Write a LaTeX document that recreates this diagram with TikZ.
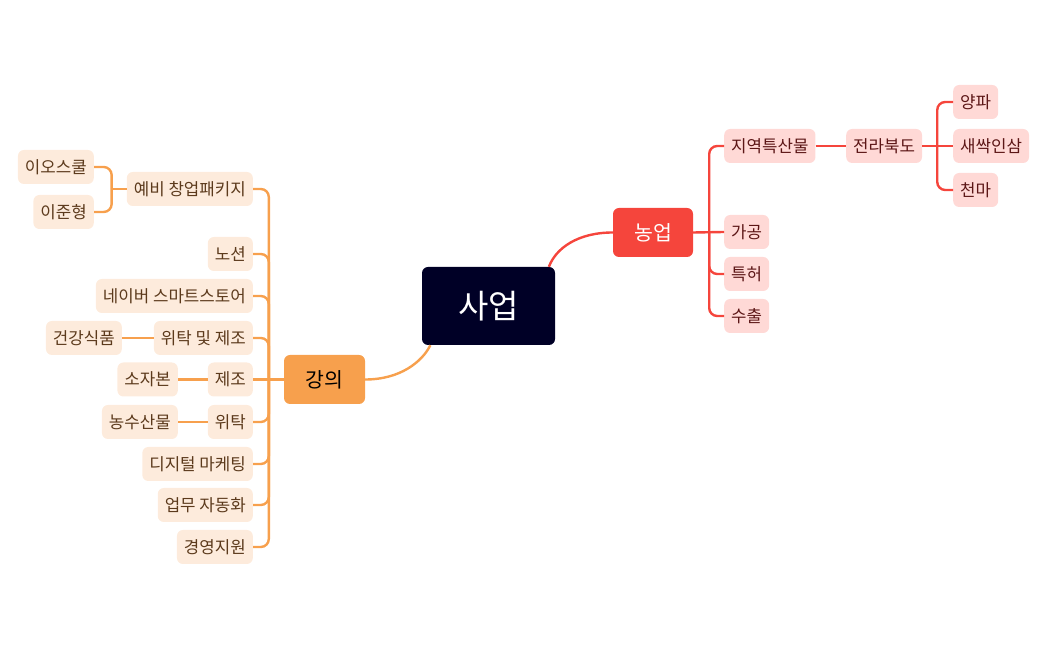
\documentclass[tikz,border=0pt]{standalone}
\usepackage{fontspec}
\usepackage{xcolor}
\usepackage{tikz}
\usetikzlibrary{positioning, calc}
\newfontfamily\kor{Noto Sans CJK KR}
\definecolor{rootnavy}{RGB}{0,0,38}
\definecolor{myred}{RGB}{245,69,60}
\definecolor{myorange}{RGB}{247,160,77}
\definecolor{hdrred}{RGB}{255,217,214}
\definecolor{hdrorange}{RGB}{253,235,220}
\definecolor{txtred}{RGB}{92,22,22}
\definecolor{txtorange}{RGB}{92,58,28}
\tikzset{
  rootblock/.style={rectangle, fill=rootnavy, text=white, rounded corners=6pt,
    minimum width=133pt, minimum height=78pt, inner sep=0pt,
    font=\kor\fontsize{33}{36}\selectfont},
  redmain/.style={rectangle, fill=myred, text=white, rounded corners=6pt,
    minimum width=80pt, minimum height=49pt, inner sep=0pt,
    font=\kor\fontsize{20.5}{22}\selectfont},
  orangemain/.style={rectangle, fill=myorange, text=black, rounded corners=6pt,
    minimum width=81pt, minimum height=49pt, inner sep=0pt,
    font=\kor\fontsize{20.5}{22}\selectfont},
  redleaf/.style={rectangle, fill=hdrred, text=txtred, rounded corners=6pt,
    minimum height=34pt, inner xsep=7pt, inner ysep=0pt,
    font=\kor\fontsize{16.8}{18}\selectfont},
  orangeleaf/.style={rectangle, fill=hdrorange, text=txtorange, rounded corners=6pt,
    minimum height=34pt, inner xsep=7pt, inner ysep=0pt,
    font=\kor\fontsize{16.8}{18}\selectfont},
  redline/.style={color=myred, line width=2.4pt, rounded corners=8pt},
  orangeline/.style={color=myorange, line width=2.4pt, rounded corners=8pt}
}
\begin{document}
\begin{tikzpicture}[x=1pt, y=1pt]
  \useasboundingbox (0,0) rectangle (1048,650);
  % main topics
  \node[rootblock] (saeop) at (488.5,344) {사업};
  \node[redmain] (nongup) at (653,417.5) {농업};
  \node[orangemain] (gangui) at (324.5,270.5) {강의};
  % right branch
  \node[redleaf, anchor=west] (jiyeok) at (724,504) {지역특산물};
  \node[redleaf, anchor=west] (gagong) at (724,418) {가공};
  \node[redleaf, anchor=west] (teukheo) at (724,376) {특허};
  \node[redleaf, anchor=west] (suchul) at (724,334) {수출};
  \node[redleaf, anchor=west] (jeolla) at (846,504) {전라북도};
  \node[redleaf, anchor=west] (yangpa) at (953,548) {양파};
  \node[redleaf, anchor=west] (saessak) at (953,504) {새싹인삼};
  \node[redleaf, anchor=west] (cheonma) at (953,460) {천마};
  % left branch
  \node[orangeleaf, anchor=east] (yebi) at (253,461) {예비 창업패키지};
  \node[orangeleaf, anchor=east] (notion) at (253,396) {노션};
  \node[orangeleaf, anchor=east] (naver) at (253,354) {네이버 스마트스토어};
  \node[orangeleaf, anchor=east] (witakjejo) at (253,312) {위탁 및 제조};
  \node[orangeleaf, anchor=east] (jejo) at (253,270.5) {제조};
  \node[orangeleaf, anchor=east] (witak) at (253,228) {위탁};
  \node[orangeleaf, anchor=east] (digital) at (253,186) {디지털 마케팅};
  \node[orangeleaf, anchor=east] (eopmu) at (253,145) {업무 자동화};
  \node[orangeleaf, anchor=east] (gyeong) at (253,103) {경영지원};
  \node[orangeleaf, anchor=east] (eoschool) at (94,483) {이오스쿨};
  \node[orangeleaf, anchor=east] (junhyeong) at (94,438) {이준형};
  \node[orangeleaf, anchor=east] (geongang) at (122,312) {건강식품};
  \node[orangeleaf, anchor=east] (sojabon) at (178,270.5) {소자본};
  \node[orangeleaf, anchor=east] (nongsusan) at (178,228) {농수산물};
  % forks
  \coordinate (nongupfork) at ($(nongup.east)+(16,0)$);
  \coordinate (jeollafork) at ($(jeolla.east)+(15,0)$);
  \coordinate (ganguifork) at ($(gangui.west)+(-15,0)$);
  \coordinate (yebifork) at ($(yebi.west)+(-15,0)$);
  % root connectors
  \draw[redline] (saeop.33) .. controls (556,402) and (578,417.5) .. (nongup.west);
  \draw[orangeline] (saeop.214) .. controls (422,288) and (400,270.5) .. (gangui.east);
  % right connectors
  \draw[redline] (nongup.east) -- (gagong.west);
  \foreach \c in {jiyeok, teukheo, suchul}
    \draw[redline] (nongupfork) |- (\c.west);
  \draw[redline] (jiyeok.east) -- (jeolla.west);
  \draw[redline] (jeolla.east) -- (saessak.west);
  \foreach \c in {yangpa, cheonma}
    \draw[redline] (jeollafork) |- (\c.west);
  % left connectors
  \draw[orangeline] (gangui.west) -- (jejo.east);
  \foreach \c in {yebi, notion, naver, witakjejo, witak, digital, eopmu, gyeong}
    \draw[orangeline] (ganguifork) |- (\c.east);
  \draw[orangeline] (yebi.west) -- (yebifork);
  \foreach \c in {eoschool, junhyeong}
    \draw[orangeline] (yebifork) |- (\c.east);
  \draw[orangeline] (witakjejo.west) -- (geongang.east);
  \draw[orangeline] (jejo.west) -- (sojabon.east);
  \draw[orangeline] (witak.west) -- (nongsusan.east);
\end{tikzpicture}
\end{document}
